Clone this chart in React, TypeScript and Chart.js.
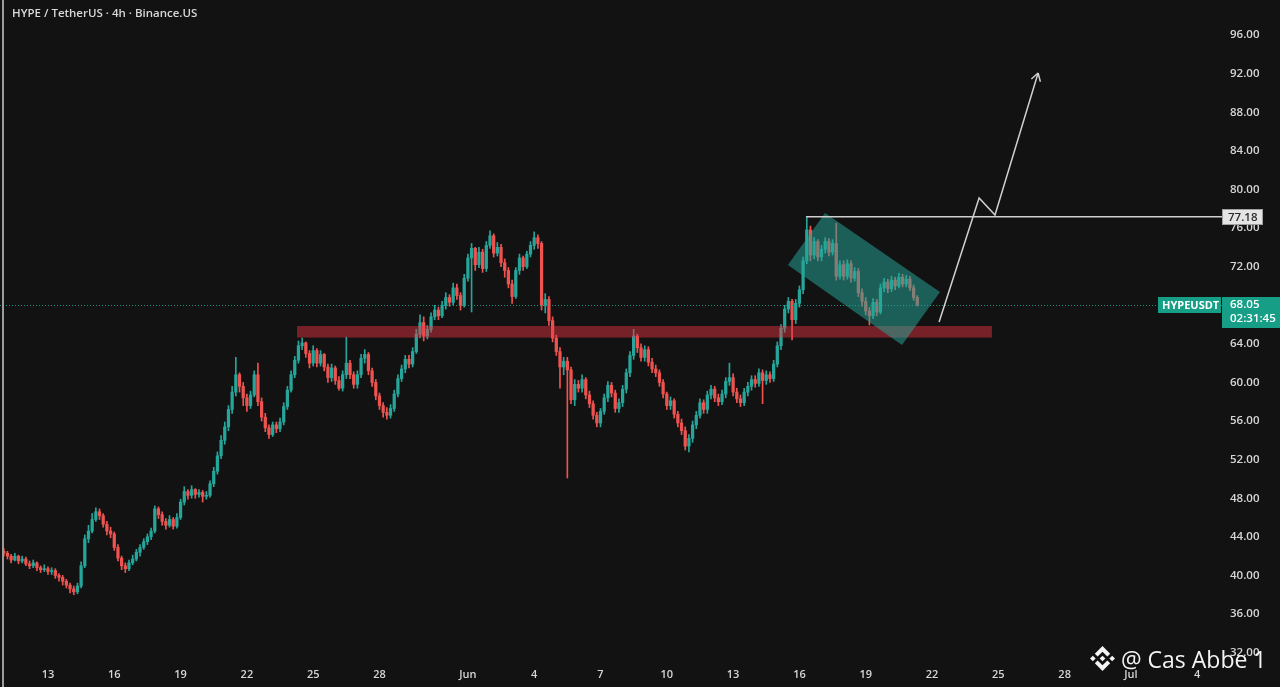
import React, { useEffect, useRef } from "react";
import { Chart, registerables } from "chart.js";

Chart.register(...registerables);

// ---- text ----
const TITLE = "HYPE / TetherUS · 4h · Binance.US";
const TICKER = "HYPEUSDT";
const COUNTDOWN = "02:31:45";
const WATERMARK = "@ Cas Abbe 1";

// ---- time axis (days counted from May 1, 00:00) ----
const FIRST_CANDLE_DAY = 10; // May 11 00:00
const CANDLE_STEP_DAYS = 1 / 6; // 4h candles
const X_RANGE = [9.83, 65.12];
const X_TICK_DAYS = [12, 15, 18, 21, 24, 27, 31, 34, 37, 40, 43, 46, 49, 52, 55, 58, 61, 64];
const X_TICK_LABELS = ["13", "16", "19", "22", "25", "28", "Jun", "4", "7", "10", "13", "16", "19", "22", "25", "28", "Jul", "4"];

// ---- price axis ----
const Y_RANGE = [31.03, 99.63];
const Y_TICKS = [32, 36, 40, 44, 48, 52, 56, 60, 64, 68, 72, 76, 80, 84, 88, 92, 96, 100];

// ---- candles (one row per day, 6 x 4h) ----
const FIRST_OPEN = 42.5;
const CLOSES = [
  42.3, 42.0, 41.6, 42.0, 41.5, 41.7,
  41.2, 41.0, 41.3, 40.8, 40.6, 40.7,
  40.4, 40.5, 40.0, 39.8, 39.4, 39.0,
  38.6, 38.3, 38.9, 41.0, 43.8, 44.6,
  45.8, 46.6, 46.2, 45.3, 44.6, 44.3,
  42.9, 41.8, 41.0, 40.7, 41.3, 41.7,
  42.4, 42.9, 43.5, 44.0, 44.6, 46.9,
  46.3, 45.6, 45.2, 45.8, 45.1, 46.0,
  47.6, 48.7, 48.3, 48.9, 48.4, 48.6,
  48.2, 48.3, 49.5, 50.8, 52.4, 54.0,
  55.4, 57.2, 59.0, 60.8, 59.6, 58.4,
  57.6, 58.7, 60.8, 58.0, 56.4, 55.3,
  54.6, 55.6, 55.2, 55.9, 57.5, 59.2,
  60.8, 62.3, 63.8, 64.1, 63.0, 62.0,
  63.3, 62.0, 62.9, 61.6, 60.5, 61.5,
  60.2, 59.4, 60.8, 62.0, 60.8, 59.8,
  60.8, 62.5, 62.9, 61.2, 60.0, 58.6,
  57.6, 56.9, 56.6, 57.3, 58.8, 60.4,
  61.4, 62.4, 61.9, 63.2, 65.0, 66.2,
  64.8, 65.5, 66.8, 67.5, 66.9, 68.0,
  68.8, 68.3, 69.8, 69.0, 68.0, 70.8,
  72.9, 73.9, 72.2, 73.5, 71.8, 74.2,
  75.2, 73.4, 74.0, 72.4, 71.6, 70.2,
  68.9, 71.6, 72.9, 72.0, 73.3, 74.2,
  75.0, 74.4, 68.0, 68.6, 66.4, 64.6,
  63.2, 61.6, 62.2, 61.3, 58.2, 59.8,
  59.4, 60.3, 58.7, 57.8, 56.6, 55.8,
  57.0, 58.4, 59.7, 58.9, 57.3, 57.9,
  59.3, 61.0, 62.8, 64.8, 63.6, 62.6,
  63.4, 62.1, 61.4, 61.0, 60.0, 58.8,
  57.6, 58.1, 56.7, 55.8, 55.0, 53.4,
  54.2, 55.6, 56.6, 57.9, 57.2, 58.7,
  59.3, 58.4, 58.0, 58.8, 60.1, 60.5,
  59.0, 58.3, 57.9, 59.0, 59.6, 60.3,
  59.9, 61.0, 60.2, 60.8, 60.4, 61.9,
  63.8, 65.6, 67.6, 68.4, 66.5, 68.2,
  69.6, 72.6, 75.8, 73.2, 74.6, 73.0,
  73.8, 74.6, 73.5, 74.4, 71.0, 72.2,
  71.0, 72.3, 70.8, 71.5, 69.3, 68.4,
  67.4, 66.9, 68.3, 67.3, 69.8, 70.4,
  69.7, 70.6, 70.0, 70.9, 70.2, 70.7,
  69.8, 68.8, 68.05,
];
const HIGHS = [
  42.8, 42.5, 42.2, 42.3, 42.1, 42.0,
  41.9, 41.5, 41.6, 41.4, 41.0, 41.1,
  40.9, 40.8, 40.7, 40.2, 40.0, 39.6,
  39.2, 38.9, 39.2, 41.4, 44.2, 45.2,
  46.4, 47.0, 46.9, 46.4, 45.6, 45.0,
  44.5, 43.2, 42.0, 41.3, 41.6, 42.1,
  42.7, 43.2, 43.8, 44.3, 44.9, 47.2,
  47.1, 46.6, 45.9, 46.2, 46.0, 46.4,
  47.9, 49.2, 48.9, 49.3, 49.0, 48.9,
  48.8, 48.7, 49.8, 51.2, 52.8, 54.5,
  55.9, 57.6, 59.6, 62.6, 61.0, 60.0,
  58.8, 59.1, 61.2, 62.0, 58.4, 56.8,
  55.6, 55.9, 55.9, 56.3, 57.9, 59.6,
  61.2, 62.7, 64.3, 64.6, 64.2, 63.3,
  63.8, 63.5, 63.3, 63.0, 61.9, 61.9,
  61.7, 60.6, 61.2, 64.7, 62.3, 61.1,
  61.2, 62.9, 63.4, 63.1, 61.5, 60.3,
  58.9, 57.9, 57.4, 57.7, 59.2, 60.8,
  61.8, 62.8, 62.8, 63.6, 65.5, 67.0,
  66.8, 65.9, 67.2, 68.0, 67.8, 68.4,
  69.3, 69.1, 70.3, 70.2, 69.3, 71.2,
  73.3, 74.4, 74.0, 74.0, 73.8, 74.6,
  75.7, 75.4, 74.5, 74.3, 72.8, 71.9,
  70.6, 71.9, 73.3, 73.1, 73.6, 74.6,
  75.6, 75.3, 74.6, 69.2, 68.9, 66.8,
  64.9, 63.6, 62.6, 62.6, 61.6, 60.3,
  60.2, 60.8, 60.5, 59.1, 58.1, 56.9,
  57.3, 58.8, 60.1, 60.0, 59.2, 58.3,
  59.7, 61.4, 63.2, 65.5, 65.0, 64.0,
  63.8, 63.7, 62.5, 61.8, 61.3, 60.3,
  59.0, 58.5, 58.3, 57.0, 56.2, 55.4,
  54.6, 56.0, 57.0, 58.3, 58.2, 59.1,
  59.7, 59.6, 58.8, 59.2, 60.5, 62.0,
  60.9, 59.4, 58.7, 59.4, 60.0, 60.7,
  60.7, 61.4, 61.3, 61.2, 61.1, 62.3,
  64.2, 66.0, 68.0, 68.8, 68.6, 68.6,
  70.0, 73.0, 77.18, 76.2, 75.0, 74.8,
  74.2, 75.0, 74.9, 74.8, 76.5, 72.6,
  72.6, 72.7, 72.6, 71.9, 71.8, 69.7,
  68.8, 67.8, 68.7, 68.6, 70.2, 70.8,
  70.7, 71.0, 70.9, 71.3, 71.2, 71.1,
  71.0, 70.1, 69.0,
];
const LOWS = [
  42.0, 41.7, 41.3, 41.5, 41.2, 41.3,
  41.0, 40.7, 40.8, 40.5, 40.3, 40.4,
  40.1, 40.1, 39.7, 39.4, 39.0, 38.7,
  38.2, 38.0, 38.1, 38.7, 40.8, 43.4,
  44.4, 45.6, 45.8, 45.0, 44.2, 43.9,
  42.6, 41.5, 40.6, 40.3, 40.5, 41.1,
  41.5, 42.0, 42.7, 43.2, 43.7, 44.4,
  45.9, 45.2, 44.8, 45.0, 44.8, 44.9,
  45.8, 47.3, 47.9, 48.0, 48.0, 48.1,
  47.6, 47.9, 48.1, 49.2, 50.5, 52.1,
  53.6, 55.0, 56.8, 58.6, 59.0, 57.6,
  57.0, 57.3, 58.5, 57.6, 56.0, 54.9,
  54.2, 54.4, 54.8, 54.9, 55.6, 57.2,
  59.0, 60.5, 62.0, 63.4, 62.6, 61.5,
  61.7, 61.6, 61.7, 61.2, 60.0, 60.1,
  59.8, 59.2, 59.1, 60.4, 60.4, 59.4,
  59.4, 60.5, 62.0, 60.8, 59.6, 58.2,
  57.2, 56.4, 56.2, 56.3, 57.0, 58.5,
  60.1, 61.0, 61.5, 61.6, 63.0, 64.6,
  64.3, 64.5, 65.2, 66.5, 66.5, 66.7,
  67.6, 67.9, 68.0, 68.6, 67.5, 67.8,
  70.5, 67.3, 71.6, 71.9, 71.4, 71.5,
  73.9, 73.0, 73.1, 72.0, 70.9, 69.8,
  68.2, 68.7, 71.2, 71.6, 71.8, 73.0,
  73.8, 73.9, 67.5, 67.2, 65.9, 64.2,
  62.8, 59.4, 60.8, 50.1, 57.8, 57.6,
  59.0, 59.0, 58.3, 57.4, 56.2, 55.4,
  55.4, 56.7, 58.0, 58.5, 56.9, 56.9,
  57.5, 58.9, 60.6, 62.4, 63.1, 62.2,
  62.2, 61.7, 61.0, 60.6, 59.6, 58.4,
  57.2, 57.2, 56.3, 55.4, 54.6, 53.0,
  52.8, 53.8, 55.2, 56.3, 56.8, 56.8,
  58.3, 58.0, 57.6, 57.7, 58.4, 59.7,
  58.6, 57.9, 57.5, 57.6, 58.6, 59.2,
  59.5, 59.6, 57.8, 59.8, 60.0, 60.1,
  61.6, 63.4, 65.2, 67.2, 64.4, 66.1,
  67.8, 69.2, 72.3, 72.6, 72.8, 72.6,
  72.6, 73.4, 73.1, 73.2, 70.6, 70.7,
  70.6, 70.7, 70.4, 70.5, 68.9, 67.9,
  67.0, 65.95, 66.6, 66.9, 67.1, 69.4,
  69.3, 69.4, 69.6, 69.8, 69.9, 69.9,
  69.5, 68.5, 67.9,
];

// ---- drawings (time in days, price) ----
const LAST_PRICE = 68.05;
const RESISTANCE_PRICE = 77.18;
const RESISTANCE_START_DAY = 46.3;
const SUPPORT_ZONE_DAYS = [23.27, 54.71];
const SUPPORT_ZONE_PRICES = [64.65, 65.85];
const CHANNEL_DAYS = [47.16, 52.36, 50.64, 45.48];
const CHANNEL_PRICES = [77.56, 69.37, 63.88, 72.17];
const ARROW_DAYS = [52.32, 54.13, 54.85, 56.8];
const ARROW_PRICES = [66.26, 79.11, 77.35, 92.06];

const UP = "#26a69a";
const DOWN = "#ef5350";
const AXIS_TEXT = "#d6d6d6";
const BG = "#121212";

const overlayPlugin = {
  id: "tvOverlays",
  afterDatasetsDraw(chart: any) {
    const { ctx, chartArea, scales } = chart;
    const xs = scales.x;
    const ys = scales.y;
    const px = (d: number) => xs.getPixelForValue(d);
    const py = (p: number) => ys.getPixelForValue(p);
    ctx.save();
    ctx.beginPath();
    ctx.rect(chartArea.left, chartArea.top, chartArea.right - chartArea.left, chartArea.bottom - chartArea.top);
    ctx.clip();

    // support zone
    const zx0 = px(SUPPORT_ZONE_DAYS[0]);
    const zx1 = px(SUPPORT_ZONE_DAYS[1]);
    const zy0 = py(SUPPORT_ZONE_PRICES[1]);
    const zy1 = py(SUPPORT_ZONE_PRICES[0]);
    ctx.fillStyle = "rgba(242,54,69,0.45)";
    ctx.fillRect(zx0, zy0, zx1 - zx0, zy1 - zy0);

    // descending channel box
    ctx.fillStyle = "rgba(38,166,154,0.52)";
    ctx.beginPath();
    CHANNEL_DAYS.forEach((d, i) => {
      const X = px(d);
      const Y = py(CHANNEL_PRICES[i]);
      if (i === 0) ctx.moveTo(X, Y);
      else ctx.lineTo(X, Y);
    });
    ctx.closePath();
    ctx.fill();

    // resistance line
    const ry = py(RESISTANCE_PRICE);
    ctx.strokeStyle = "#cfcfcf";
    ctx.lineWidth = 1.5;
    ctx.beginPath();
    ctx.moveTo(px(RESISTANCE_START_DAY), ry);
    ctx.lineTo(chartArea.right, ry);
    ctx.stroke();

    // last price dotted line
    const ly = Math.round(py(LAST_PRICE)) + 0.5;
    ctx.strokeStyle = "rgba(38,166,154,0.85)";
    ctx.lineWidth = 1;
    ctx.setLineDash([1, 2]);
    ctx.beginPath();
    ctx.moveTo(chartArea.left, ly);
    ctx.lineTo(chartArea.right, ly);
    ctx.stroke();
    ctx.setLineDash([]);

    // projected path arrow
    const pts = ARROW_DAYS.map((d, i) => [px(d), py(ARROW_PRICES[i])]);
    ctx.strokeStyle = "#d0d0d0";
    ctx.lineWidth = 1.5;
    ctx.lineJoin = "miter";
    ctx.beginPath();
    pts.forEach(([X, Y], i) => (i === 0 ? ctx.moveTo(X, Y) : ctx.lineTo(X, Y)));
    ctx.stroke();
    const [ex, ey] = pts[pts.length - 1];
    const [bx, by] = pts[pts.length - 2];
    const ang = Math.atan2(ey - by, ex - bx);
    ctx.beginPath();
    [-0.55, 0.55].forEach((s) => {
      ctx.moveTo(ex, ey);
      ctx.lineTo(ex - 9 * Math.cos(ang + s), ey - 9 * Math.sin(ang + s));
    });
    ctx.stroke();
    ctx.restore();
  },
  afterDraw(chart: any) {
    const { ctx, chartArea, scales } = chart;
    const ys = scales.y;
    const right = chartArea.right;
    ctx.save();
    ctx.textBaseline = "middle";
    ctx.textAlign = "left";

    // resistance price label
    const ry = Math.round(ys.getPixelForValue(RESISTANCE_PRICE));
    ctx.fillStyle = "#e4e4e4";
    ctx.fillRect(right, ry - 8, 41, 16);
    ctx.strokeStyle = "#a0a0a0";
    ctx.lineWidth = 1;
    ctx.strokeRect(right + 0.5, ry - 7.5, 40, 15);
    ctx.fillStyle = "#2a2a2a";
    ctx.font = '600 11.5px "Open Sans"';
    ctx.fillText(RESISTANCE_PRICE.toFixed(2), right + 6, ry + 0.5);

    // last price labels
    const ly = Math.round(ys.getPixelForValue(LAST_PRICE));
    ctx.fillStyle = "#169e87";
    ctx.fillRect(right, ly - 8, 58, 31);
    ctx.fillRect(right - 64, ly - 8, 63, 16);
    ctx.fillStyle = "#ffffff";
    ctx.font = '600 11.5px "Open Sans"';
    ctx.fillText(LAST_PRICE.toFixed(2), right + 8, ly);
    ctx.fillText(COUNTDOWN, right + 8, ly + 14);
    ctx.font = '700 11px "Open Sans"';
    ctx.fillText(TICKER, right - 60, ly + 0.5);
    ctx.restore();
  },
};

function BinanceLogo() {
  return (
    <svg width="25" height="25" viewBox="0 0 126.61 126.61" style={{ position: "absolute", left: 1090, top: 646 }}>
      <g fill="#f4f4f4">
        <path d="M38.73,53.2,63.3,28.63,87.89,53.22l14.3-14.3L63.3,0,24.43,38.88Z" />
        <path d="M0,63.31l14.3-14.3,14.3,14.3-14.3,14.3Z" />
        <path d="M38.73,73.41,63.3,98,87.89,73.4l14.31,14.29h0L63.3,126.61,24.43,87.74l0,0Z" />
        <path d="M98,63.31l14.3-14.3,14.3,14.3-14.3,14.3Z" />
        <path d="M77.83,63.3h0L63.3,48.76,52.55,59.51h0l-1.24,1.24-2.54,2.54h0l0,0,14.53,14.54L77.83,63.31h0Z" />
      </g>
    </svg>
  );
}

export default function App() {
  const canvasRef = useRef<HTMLCanvasElement | null>(null);

  useEffect(() => {
    document.body.style.margin = "0";
    document.body.style.background = BG;
    const canvas = canvasRef.current;
    if (!canvas) return;

    const n = Math.min(CLOSES.length, HIGHS.length, LOWS.length);
    const bodies: any[] = [];
    const wicks: any[] = [];
    const colors: string[] = [];
    for (let i = 0; i < n; i++) {
      const open = i === 0 ? FIRST_OPEN : CLOSES[i - 1];
      const close = CLOSES[i];
      const t = FIRST_CANDLE_DAY + i * CANDLE_STEP_DAYS;
      bodies.push({ x: t, y: [open, close] });
      wicks.push({ x: t, y: [Math.min(LOWS[i], open, close), Math.max(HIGHS[i], open, close)] });
      colors.push(close >= open ? UP : DOWN);
    }

    const chart = new Chart(canvas, {
      type: "bar",
      data: {
        datasets: [
          {
            label: "wicks",
            data: wicks,
            backgroundColor: colors,
            barThickness: 1,
            grouped: false,
            order: 2,
          } as any,
          {
            label: "bodies",
            data: bodies,
            backgroundColor: colors,
            barThickness: 2.6,
            minBarLength: 1,
            grouped: false,
            order: 1,
          } as any,
        ],
      },
      options: {
        animation: false,
        responsive: false,
        events: [],
        layout: { padding: 0 },
        plugins: { legend: { display: false }, tooltip: { enabled: false } },
        scales: {
          x: {
            type: "linear",
            min: X_RANGE[0],
            max: X_RANGE[1],
            offset: false,
            grid: { display: false, drawTicks: false },
            border: { display: false },
            afterBuildTicks: (s: any) => {
              s.ticks = X_TICK_DAYS.map((v) => ({ value: v }));
            },
            afterFit: (s: any) => {
              s.height = 25;
              s.paddingLeft = 0;
              s.paddingRight = 0;
            },
            ticks: {
              autoSkip: false,
              maxRotation: 0,
              padding: 6,
              color: AXIS_TEXT,
              font: { family: "Open Sans", size: 11, weight: 600 },
              callback: (_v: any, i: number) => X_TICK_LABELS[i],
            },
          },
          y: {
            type: "linear",
            position: "right",
            min: Y_RANGE[0],
            max: Y_RANGE[1],
            grid: { display: false, drawTicks: false },
            border: { display: false },
            afterBuildTicks: (s: any) => {
              s.ticks = Y_TICKS.map((v) => ({ value: v }));
            },
            afterFit: (s: any) => {
              s.width = 58;
              s.paddingTop = 0;
              s.paddingBottom = 0;
            },
            ticks: {
              autoSkip: false,
              padding: 8,
              color: AXIS_TEXT,
              font: { family: "Open Sans", size: 11.5, weight: 600 },
              callback: (v: any) => Number(v).toFixed(2),
            },
          },
        },
      } as any,
      plugins: [overlayPlugin],
    });

    return () => chart.destroy();
  }, []);

  return (
    <div style={{ position: "fixed", left: 0, top: 0, width: 1280, height: 687, background: BG, overflow: "hidden" }}>
      <canvas ref={canvasRef} width={1280} height={687} style={{ position: "absolute", left: 0, top: 0, width: 1280, height: 687 }} />
      <div style={{ position: "absolute", left: 2, top: 0, width: 2, height: 687, background: "#9c9c9c" }} />
      <div
        style={{
          position: "absolute",
          left: 12,
          top: 5,
          color: "#d8d8d8",
          fontFamily: "Open Sans",
          fontWeight: 600,
          fontSize: 11.5,
          lineHeight: "16px",
          whiteSpace: "nowrap",
        }}
      >
        {TITLE}
      </div>
      <BinanceLogo />
      <div
        style={{
          position: "absolute",
          left: 1121,
          top: 646,
          color: "#f4f4f4",
          fontFamily: "Open Sans",
          fontWeight: 400,
          fontSize: 23,
          lineHeight: "26px",
          whiteSpace: "nowrap",
        }}
      >
        {WATERMARK}
      </div>
    </div>
  );
}
